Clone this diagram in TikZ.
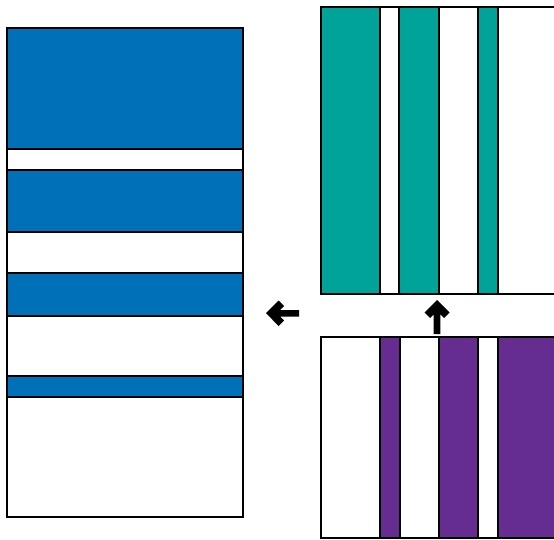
\documentclass[tikz,border=0pt]{standalone}
\definecolor{bandblue}{HTML}{0070B8}
\definecolor{bandteal}{HTML}{00A398}
\definecolor{bandpurple}{HTML}{662D91}
\begin{document}
\begin{tikzpicture}[x=1pt,y=-1pt,
  band/.style={draw=black,line width=1.8pt},
  frame/.style={draw=black,line width=2pt},
  arrowshape/.style={fill=black}]
\useasboundingbox (0,0) rectangle (554,540);
\clip (0,0) rectangle (554,540);
% left panel (horizontal bands)
\fill[white] (7,28) rectangle (243,517);
\foreach \a/\b in {28/149,170/232,273/316,376/397}
  \filldraw[band,fill=bandblue] (7,\a) rectangle (243,\b);
\draw[band] (7,149) -- (243,149) (7,170) -- (243,170);
\draw[frame] (7,28) rectangle (243,517);
% top right panel (teal vertical bands)
\foreach \a/\b in {321/380,399/439,478/498}
  \filldraw[band,fill=bandteal] (\a,7) rectangle (\b,294);
\draw[frame] (321,7) rectangle (560,294);
% bottom right panel (purple vertical bands)
\foreach \a/\b in {380/400,439/478,498/560}
  \filldraw[band,fill=bandpurple] (\a,337) rectangle (\b,538);
\draw[frame] (321,337) rectangle (560,538);
% arrows
\coordinate (ltip) at (266,313);
\coordinate (utip) at (437,300);
\fill[arrowshape] (ltip) -- ++(12.5,-12.5) -- ++(5.5,5.5) -- ++(-4,4) -- (299,310) -- (299,316.5) -- (280,316.5) -- ++(4,4) -- ++(-5.5,5.5) -- cycle;
\fill[arrowshape] (utip) -- ++(12.5,12.5) -- ++(-5.5,5.5) -- ++(-3.7,-3.7) -- (440.3,334) -- (433.7,334) -- (433.7,314.3) -- ++(-3.7,3.7) -- ++(-5.5,-5.5) -- cycle;
\end{tikzpicture}
\end{document}
